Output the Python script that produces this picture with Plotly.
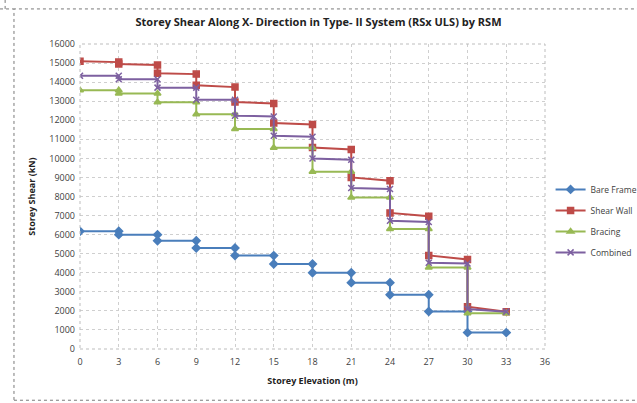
import plotly.graph_objects as go

# Storey elevations (m): each interior level carries two values (above / below the floor)
elevation = [0, 3, 3, 6, 6, 9, 9, 12, 12, 15, 15, 18, 18, 21, 21, 24, 24, 27, 27, 30, 30, 33]

bare_frame = [6180, 6180, 6000, 6000, 5680, 5680, 5300, 5300, 4900, 4900, 4460, 4460,
              4000, 4000, 3480, 3480, 2850, 2850, 1970, 1970, 860, 860]
shear_wall = [15100, 15050, 14950, 14900, 14460, 14420, 13840, 13740, 12960, 12880, 11860, 11780,
              10570, 10470, 9000, 8830, 7140, 6970, 4910, 4700, 2220, 1960]
bracing = [13580, 13580, 13400, 13400, 12940, 12940, 12320, 12320, 11540, 11540, 10560, 10560,
           9300, 9300, 7950, 7950, 6300, 6300, 4280, 4280, 1870, 1870]
combined = [14330, 14330, 14150, 14150, 13710, 13710, 13080, 13080, 12240, 12200, 11190, 11130,
            9990, 9930, 8450, 8390, 6730, 6660, 4520, 4490, 2100, 1960]

x_ticks = [0, 3, 6, 9, 12, 15, 18, 21, 24, 27, 30, 33, 36]
y_ticks = list(range(0, 16001, 1000))

series = [
    ("Bare Frame", bare_frame, "#4a7ebb", "diamond", 6),
    ("Shear Wall", shear_wall, "#be4b48", "square", 6),
    ("Bracing", bracing, "#98b954", "triangle-up", 6),
    ("Combined", combined, "#7d60a0", "x-thin", 6),
]

fig = go.Figure()
for name, vals, color, sym, size in series:
    fig.add_trace(go.Scatter(
        x=elevation, y=vals, name=name, legendgroup=name, mode="lines+markers",
        line=dict(color=color, width=2),
        marker=dict(symbol=sym, size=size, color=color,
                    line=dict(color=color, width=1.5)),
    ))

grid_col = "#cfcfcf"
frame_col = "#7a7a7a"
fig.update_layout(
    width=637, height=403,
    margin=dict(l=80, r=92, t=44, b=54, autoexpand=False),
    paper_bgcolor="white", plot_bgcolor="white",
    font=dict(family="Open Sans, Liberation Sans, sans-serif", size=9, color="#404040"),
    title=dict(text="<b>Storey Shear Along X- Direction in Type- II System (RSx ULS) by RSM</b>",
               x=0.5, xanchor="center", y=0.945, yanchor="middle",
               font=dict(size=11, color="#222222")),
    xaxis=dict(range=[0, 36], tickvals=x_ticks, ticktext=[str(v) for v in x_ticks],
               showgrid=True, gridcolor=grid_col, griddash="dot", gridwidth=1,
               zeroline=False, showline=False, ticks="", ticklabelstandoff=6,
               title=dict(text="<b>Storey Elevation (m)</b>", standoff=10,
                          font=dict(size=9, color="#222222"))),
    yaxis=dict(range=[0, 16000], tickvals=y_ticks, ticktext=[str(v) for v in y_ticks],
               showgrid=True, gridcolor=grid_col, griddash="dot", gridwidth=1,
               zeroline=False, showline=False, ticks="", ticklabelstandoff=4,
               title=dict(text="<b>Storey Shear (kN)</b>", standoff=12,
                          font=dict(size=9, color="#222222"))),
    legend=dict(x=1.012, y=0.42, xanchor="left", yanchor="middle",
                font=dict(size=8.5, color="#404040"), tracegroupgap=2,
                itemwidth=30, bgcolor="rgba(0,0,0,0)"),
    shapes=[
        # plot-area frame
        dict(type="rect", xref="paper", yref="paper", x0=0, x1=1, y0=0, y1=1,
             line=dict(color="#bdbdbd", width=1, dash="dot")),
        # chart-area frame
        dict(type="rect", xref="paper", yref="paper", x0=-0.142, x1=1.22, y0=-0.168, y1=1.115,
             line=dict(color=frame_col, width=1, dash="dot")),
        # corner of the surrounding frame
        dict(type="line", xref="paper", yref="paper", x0=-0.172, x1=-0.142, y0=1.115, y1=1.115,
             line=dict(color=frame_col, width=1, dash="dot")),
        dict(type="line", xref="paper", yref="paper", x0=-0.161, x1=-0.161, y0=1.115, y1=1.15,
             line=dict(color=frame_col, width=1, dash="dot")),
    ],
)

fig.write_html("out.html")
